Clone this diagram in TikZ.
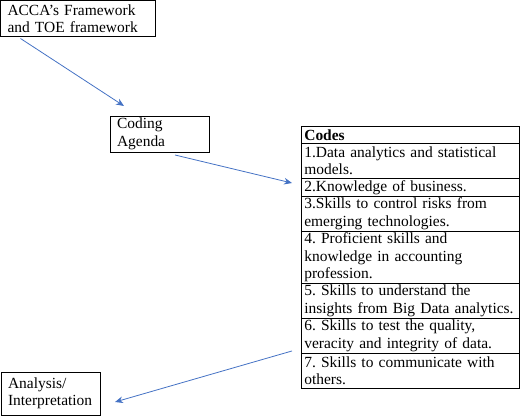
\documentclass[tikz,border=0pt]{standalone}
\usepackage{fontspec}
\setmainfont{Liberation Serif}
\usepackage{tikz}
\usetikzlibrary{arrows.meta,positioning}
\frenchspacing
\definecolor{linkblue}{HTML}{4472C4}
\tikzset{
    mybox/.style={rectangle, draw=black, line width=0.6pt, anchor=north west, align=left, inner xsep=5.25pt, inner ysep=0pt, outer sep=0pt, font=\fontsize{11.6}{13.1}\selectfont},
    myrow/.style={rectangle, draw=black, line width=0.5pt, align=left, inner xsep=2.5pt, inner ysep=0pt, outer sep=0pt, text width=158.5pt, minimum height=#1*13.125pt, font=\fontsize{11.6}{13.1}\selectfont},
    myrow/.default=1,
    pil/.style={-{Stealth[length=6pt,width=5pt]}, linkblue, line width=0.6pt}
}

\begin{document}
\begin{tikzpicture}[x=0.75pt, y=-0.75pt]
    \useasboundingbox (0,0) rectangle (520,416);
    % boxes on the left
    \node[mybox, text width=105.75pt, minimum height=27pt] (acca) at (0.5,0.5)
      {ACCA’s Framework\\and TOE framework};
    \node[mybox, text width=63.75pt, minimum height=27pt] (coding) at (110,116)
      {Coding\\Agenda};
    \node[mybox, text width=63.75pt, minimum height=32.25pt] (analysis) at (1,372)
      {Analysis/\\Interpretation};
    % table of codes
    \node[myrow=1, anchor=north west] (codes) at (301,126) {\textbf{Codes}};
    \node[myrow=2, below=0pt of codes] (code1) {1.Data analytics and statistical\\models.};
    \node[myrow=1, below=0pt of code1] (code2) {2.Knowledge of business.};
    \node[myrow=2, below=0pt of code2] (code3) {3.Skills to control risks from\\emerging technologies.};
    \node[myrow=3, below=0pt of code3] (code4) {4. Proficient skills and\\knowledge in accounting\\profession.};
    \node[myrow=2, below=0pt of code4] (code5) {5. Skills to understand the\\insights from Big Data analytics.};
    \node[myrow=2, below=0pt of code5] (code6) {6. Skills to test the quality,\\veracity and integrity of data.};
    \node[myrow=2, below=0pt of code6] (code7) {7. Skills to communicate with\\others.};
    % arrows
    \draw[pil] ([xshift=15pt,yshift=-1.5pt]acca.south west) -- ([xshift=10.5pt,yshift=7.5pt]coding.north west);
    \draw[pil] ([xshift=48.75pt,yshift=-2.25pt]coding.south west) -- ([xshift=-6.75pt,yshift=-3.4pt]code2.north west);
    \draw[pil] ([xshift=-6.75pt,yshift=1.9pt]code6.south west) -- ([xshift=11.25pt,yshift=9.75pt]analysis.south east);
\end{tikzpicture}
\end{document}
